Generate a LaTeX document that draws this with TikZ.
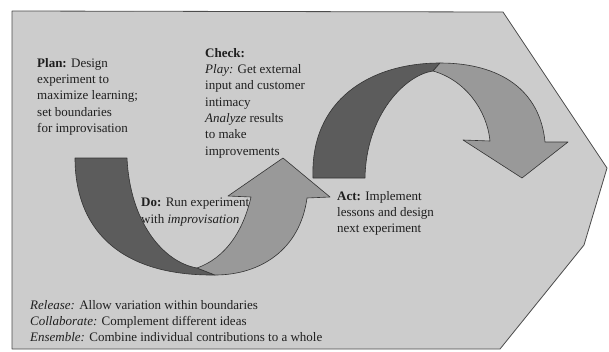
\documentclass[tikz,border=0pt]{standalone}
\usepackage{fontspec}
\setmainfont{Liberation Serif}
\definecolor{bgfill}{gray}{0.80}
\definecolor{darkband}{gray}{0.36}
\definecolor{lightband}{gray}{0.60}
\definecolor{ink}{gray}{0.12}
\begin{document}
\begin{tikzpicture}[x=1pt,y=-1pt,
  txt/.style={anchor=north west,inner sep=0pt,align=left,
    font=\fontsize{13}{16.3}\selectfont,text=ink},
  band/.style={draw=black!80,line width=0.6pt,line join=round}]
\useasboundingbox (0,0) rectangle (609,351);
\fill[white] (0,0) rectangle (609,351);
% pentagon background
\draw[fill=bgfill,draw=black!70,line width=0.8pt,line join=round]
  (12,11) -- (503,12) -- (607,168) -- (584,245) -- (500,349) -- (12,349) -- cycle;
% texts
\node[txt] (plan) at (37,58) {\textbf{Plan:} Design\\experiment to\\maximize learning;\\set boundaries\\for improvisation};
\node[txt] (check) at (205,48) {\textbf{Check:}\\\textit{Play:} Get external\\input and customer\\intimacy\\\textit{Analyze} results\\to make\\improvements};
\node[txt] (do) at (141,198) {\textbf{Do:} Run experiment\\with \textit{improvisation}};
\node[txt] (act) at (337,191) {\textbf{Act:} Implement\\lessons and design\\next experiment};
\node[txt] (notes) at (30,300) {\textit{Release:} Allow variation within boundaries\\\textit{Collaborate:} Complement different ideas\\\textit{Ensemble:} Combine individual contributions to a whole};
% left arrow (Plan -> Do -> Check)
\draw[band,fill=darkband]
  (75,158) -- (127,158)
  .. controls (130,222) and (163,262) .. (197,268)
  -- (215,275)
  .. controls (115,276) and (75,225) .. (75,158) -- cycle;
\draw[band,fill=lightband]
  (197,268) .. controls (225,258) and (243,232) .. (251,197)
  -- (228,196) -- (283,158) -- (330,197) -- (307,198)
  .. controls (300,250) and (260,275) .. (215,275) -- cycle;
% right arrow (Check -> Act -> next)
\draw[band,fill=darkband]
  (313,178) .. controls (310,100) and (370,63) .. (440,63)
  -- (433,71)
  .. controls (405,75) and (366,115) .. (365,178) -- cycle;
\draw[band,fill=lightband]
  (433,71) .. controls (465,80) and (487,110) .. (490,141)
  -- (463,140) -- (522,178) -- (568,142) -- (545,142)
  .. controls (540,90) and (500,63) .. (440,63) -- cycle;
\end{tikzpicture}
\end{document}
